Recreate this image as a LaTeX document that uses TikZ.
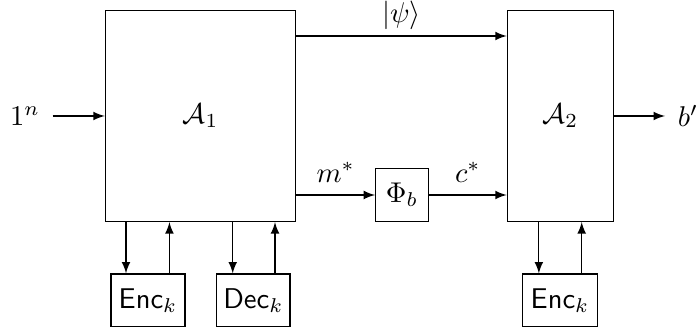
\documentclass[tikz,border=0pt]{standalone}
\usepackage{amsmath}
\begin{document}
\begin{tikzpicture}[x=0.35pt,y=-0.35pt,>=latex,
  box/.style={draw,rectangle,inner sep=0pt},
  lbl/.style={inner sep=1pt}]
\useasboundingbox (0,0) rectangle (700,328);
\node[box,minimum width=66.6pt,minimum height=74pt] (A1) at (200.5,115.8) {$\mathcal{A}_1$};
\node[box,minimum width=37.1pt,minimum height=74pt] (A2) at (560.3,115.8) {$\mathcal{A}_2$};
\node[box,minimum width=18.4pt,minimum height=18.7pt] (P) at (402,195) {$\Phi_b$};
\node[box,minimum width=25.9pt,minimum height=18.4pt] (E1) at (148,300.3) {\textsf{Enc}$_k$};
\node[box,minimum width=25.7pt,minimum height=18.4pt] (D1) at (253.3,300.3) {\textsf{Dec}$_k$};
\node[box,minimum width=26.1pt,minimum height=18.4pt] (E2) at (560,300.3) {\textsf{Enc}$_k$};
\node[lbl] (in) at (25,116) {$1^n$};
\node[lbl] (out) at (688,116) {$b'$};
\coordinate (inA) at (52.7,116);
\coordinate (outA) at (665,116);
\draw[->] (inA) -- (inA -| A1.west);
\draw[->] (outA -| A2.east) -- (outA);
\coordinate (top) at (400,36);
\draw[->] (top -| A1.east) -- node[above=2pt,inner sep=0pt] {$|\psi\rangle$} (top -| A2.west);
\draw[->] (P.west -| A1.east) -- node[above=1pt] {$m^*$} (P.west);
\draw[->] (P.east) -- node[above=1pt] {$c^*$} (P.east -| A2.west);
\coordinate (e1d) at ([xshift=-7.7pt]E1.north);
\coordinate (e1u) at ([xshift=7.5pt]E1.north);
\coordinate (d1d) at ([xshift=-7.2pt]D1.north);
\coordinate (d1u) at ([xshift=7.6pt]D1.north);
\coordinate (e2d) at ([xshift=-7.4pt]E2.north);
\coordinate (e2u) at ([xshift=7.6pt]E2.north);
\draw[->] (e1d |- A1.south) -- (e1d);
\draw[->] (e1u) -- (e1u |- A1.south);
\draw[->] (d1d |- A1.south) -- (d1d);
\draw[->] (d1u) -- (d1u |- A1.south);
\draw[->] (e2d |- A2.south) -- (e2d);
\draw[->] (e2u) -- (e2u |- A2.south);
\end{tikzpicture}
\end{document}
